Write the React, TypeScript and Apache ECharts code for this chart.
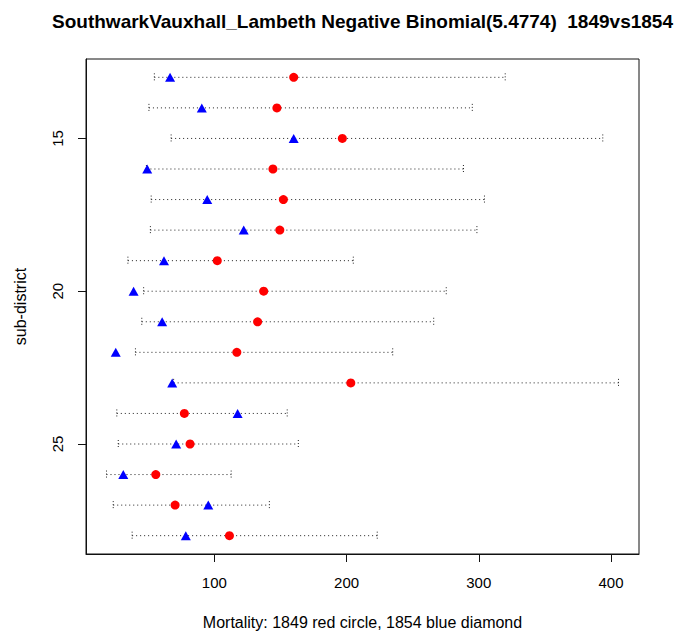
import React, { useEffect, useRef } from "react";
import * as echarts from "echarts";

const titleText = "SouthwarkVauxhall_Lambeth Negative Binomial(5.4774)  1849vs1854";
const xLabel = "Mortality: 1849 red circle, 1854 blue diamond";
const yLabel = "sub-district";

const subDistricts = [13, 14, 15, 16, 17, 18, 19, 20, 21, 22, 23, 24, 25, 26, 27, 28];
const mort1849 = [160.0, 147.3, 196.8, 144.3, 152.2, 149.5, 102.2, 137.3, 132.7, 117.0, 203.2, 77.3, 81.6, 55.7, 70.3, 111.4];
const mort1854 = [66.5, 90.5, 160.0, 49.2, 94.6, 122.2, 61.9, 38.9, 60.5, 25.4, 68.1, 117.6, 71.1, 31.1, 95.4, 78.4];
const ciLower = [54.6, 50.5, 67.3, 48.6, 52.2, 51.6, 34.6, 46.5, 45.1, 40.3, 69.2, 26.2, 27.3, 18.4, 23.5, 37.8];
const ciUpper = [320.0, 295.1, 393.8, 288.4, 304.3, 298.6, 205.1, 275.4, 265.9, 234.9, 405.7, 155.1, 163.5, 112.7, 141.6, 223.2];

const xTicks = [100, 200, 300, 400];
const yTicks = [15, 20, 25];

const FONT = "'Liberation Sans', Arial, Helvetica, sans-serif";

export default function App() {
  const ref = useRef<HTMLDivElement>(null);
  useEffect(() => {
    document.body.style.margin = "0";
    if (!ref.current) return;
    const chart = echarts.init(ref.current, null, { renderer: "svg" });
    const gridLeft = 86, gridTop = 59, gridW = 553, gridH = 495;
    const cx = gridLeft + gridW / 2;
    const cy = gridTop + gridH / 2;
    const option: any = {
      animation: false,
      backgroundColor: "#fff",
      textStyle: { fontFamily: FONT },
      grid: {
        left: gridLeft, top: gridTop, width: gridW, height: gridH,
        show: true, borderColor: "#111", borderWidth: 1, backgroundColor: "transparent",
      },
      xAxis: {
        type: "value", min: 2.9, max: 421.2,
        splitLine: { show: false },
        axisLine: { show: true, lineStyle: { color: "#111" } },
        axisTick: { show: true, length: 8, inside: false, customValues: xTicks, lineStyle: { color: "#111" } },
        axisLabel: { customValues: xTicks, color: "#000", fontSize: 15, margin: 21, fontFamily: FONT },
      },
      yAxis: {
        type: "value", min: 12.4, max: 28.6, inverse: true,
        splitLine: { show: false },
        axisLine: { show: true, lineStyle: { color: "#111" } },
        axisTick: { show: true, length: 8, inside: false, customValues: yTicks, lineStyle: { color: "#111" } },
        axisLabel: { customValues: yTicks, color: "#000", fontSize: 15, margin: 21, rotate: 90, fontFamily: FONT },
      },
      graphic: [
        { type: "text", x: cx, y: 21, style: { text: titleText, fontSize: 19, fontWeight: "bold", fontFamily: FONT, fill: "#000", align: "center", verticalAlign: "middle" } },
        { type: "text", x: cx, y: 622, style: { text: xLabel, fontSize: 16, fontFamily: FONT, fill: "#000", align: "center", verticalAlign: "middle" } },
        { type: "text", x: 20, y: cy, rotation: Math.PI / 2, style: { text: yLabel, fontSize: 16, fontFamily: FONT, fill: "#000", align: "center", verticalAlign: "middle" } },
      ],
      series: [
        {
          type: "custom",
          data: subDistricts.map((s, i) => [ciLower[i], ciUpper[i], s]),
          encode: { x: [0, 1], y: 2 },
          renderItem: (params: any, api: any) => {
            const row = api.value(2);
            const p1 = api.coord([api.value(0), row]);
            const p2 = api.coord([api.value(1), row]);
            const st = { stroke: "#222", lineWidth: 1, lineDash: [1, 3] };
            const h = 4;
            return {
              type: "group",
              children: [
                { type: "line", shape: { x1: p1[0], y1: p1[1], x2: p2[0], y2: p2[1] }, style: st },
                { type: "line", shape: { x1: p1[0], y1: p1[1] - h, x2: p1[0], y2: p1[1] + h }, style: { ...st, lineDash: [1, 2] } },
                { type: "line", shape: { x1: p2[0], y1: p2[1] - h, x2: p2[0], y2: p2[1] + h }, style: { ...st, lineDash: [1, 2] } },
              ],
            };
          },
          silent: true,
        },
        {
          type: "scatter",
          data: subDistricts.map((s, i) => [mort1849[i], s]),
          symbol: "circle",
          symbolSize: 9,
          itemStyle: { color: "#ff0000", opacity: 1 },
          silent: true,
        },
        {
          type: "scatter",
          data: subDistricts.map((s, i) => [mort1854[i], s]),
          symbol: "triangle",
          symbolSize: [10, 9],
          itemStyle: { color: "#0000ff", opacity: 1 },
          silent: true,
        },
      ],
    };
    chart.setOption(option);
    return () => chart.dispose();
  }, []);
  return <div ref={ref} style={{ width: 681, height: 635 }} />;
}
